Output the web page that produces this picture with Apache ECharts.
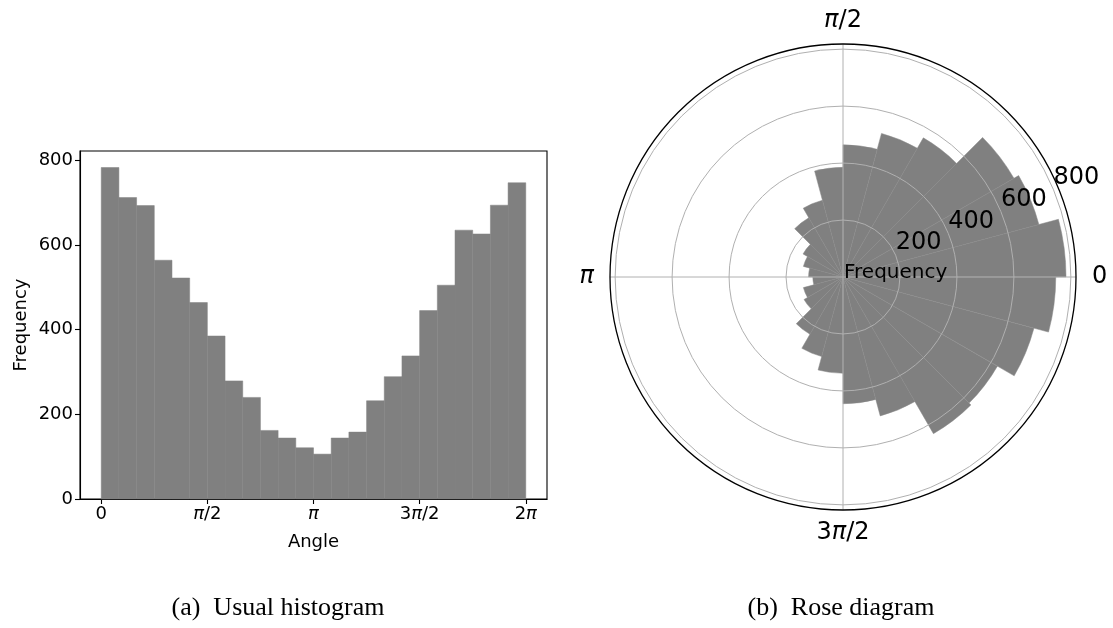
<!DOCTYPE html>
<html>
<head>
<meta charset="utf-8">
<title>Histogram and rose diagram of angles</title>
<script src="https://cdn.jsdelivr.net/npm/echarts@6/dist/echarts.min.js"></script>
<style>
  html, body { margin: 0; padding: 0; background: #ffffff; }
  #chart { width: 1113px; height: 628px; }
</style>
</head>
<body>
<div id="chart"></div>
<script>
// Counts per angular bin (24 equal bins over [0, 2π))
const counts = [783, 712, 693, 564, 522, 464, 385, 279, 240, 162, 144, 121,
                106, 144, 158, 232, 289, 338, 445, 505, 635, 626, 694, 747];
const binCount = counts.length;

// Histogram x ticks (radians) and their labels
const angleTickValues = [0, Math.PI / 2, Math.PI, 3 * Math.PI / 2, 2 * Math.PI];
const angleTickLabels = ['0', 'π/2', 'π', '3π/2', '2π'];

// Frequency ticks shared by both panels
const freqTicks = [0, 200, 400, 600, 800];
const ringTicks = [200, 400, 600, 800];

// Rose angular ticks (degrees) and labels
const roseAngleTicks = [0, 90, 180, 270];
const roseAngleLabels = ['0', 'π/2', 'π', '3π/2'];

// Panel captions
const captions = ['(a)  Usual histogram', '(b)  Rose diagram'];

const FONT = 'DejaVu Sans';
const GRAY = '#808080';
const GRID_GRAY = '#b0b0b0';

const binWidth = 2 * Math.PI / binCount;
const histData = counts.map((c, i) => [i * binWidth, (i + 1) * binWidth, c]);
const binNames = counts.map((c, i) => 'bin' + i);

function piRich(label) {
  return label.replace('π', '{p|π}');
}
function labelFor(values, labels) {
  return function (v) {
    for (let i = 0; i < values.length; i++) {
      if (Math.abs(values[i] - v) < 1e-6) return piRich(labels[i]);
    }
    return '';
  };
}

const rMax = 818;

const option = {
  animation: false,
  backgroundColor: '#ffffff',
  textStyle: { fontFamily: FONT, color: '#000' },
  grid: {
    left: 80, top: 151, width: 467, height: 348,
    show: true, borderColor: '#000', borderWidth: 1.1,
    backgroundColor: 'transparent'
  },
  xAxis: {
    type: 'value',
    min: -0.1 * Math.PI,
    max: 2.1 * Math.PI,
    axisLine: { show: true, onZero: false, lineStyle: { color: '#000', width: 1.1 } },
    axisTick: { show: true, length: 5, customValues: angleTickValues,
                lineStyle: { color: '#000', width: 1.1 } },
    axisLabel: {
      customValues: angleTickValues,
      formatter: labelFor(angleTickValues, angleTickLabels),
      fontSize: 18, color: '#000', margin: 6, fontFamily: FONT,
      rich: { p: { fontStyle: 'italic', fontSize: 18, fontFamily: FONT, color: '#000' } }
    },
    splitLine: { show: false },
    name: 'Angle', nameLocation: 'middle', nameGap: 34,
    nameTextStyle: { fontSize: 18, color: '#000', fontFamily: FONT }
  },
  yAxis: {
    type: 'value',
    min: 0,
    max: 822,
    axisLine: { show: true, onZero: false, lineStyle: { color: '#000', width: 1.1 } },
    axisTick: { show: true, length: 5, customValues: freqTicks,
                lineStyle: { color: '#000', width: 1.1 } },
    axisLabel: { customValues: freqTicks, fontSize: 18, color: '#000', margin: 7, fontFamily: FONT },
    splitLine: { show: false },
    name: 'Frequency', nameLocation: 'middle', nameGap: 50, nameRotate: 90,
    nameTextStyle: { fontSize: 18, color: '#000', fontFamily: FONT }
  },
  polar: [
    { center: [843, 277], radius: 233 },
    { center: [843, 277], radius: 233 },
    { center: [843, 277], radius: 233 }
  ],
  angleAxis: [
    {
      polarIndex: 0, type: 'value', min: 0, max: 360, interval: 90,
      startAngle: 0, clockwise: false, z: 10,
      axisLine: { show: true, lineStyle: { color: '#000', width: 1.3 } },
      axisTick: { show: false, customValues: roseAngleTicks },
      axisLabel: {
        customValues: roseAngleTicks,
        formatter: labelFor(roseAngleTicks, roseAngleLabels),
        fontSize: 24, lineHeight: 14, color: '#000', margin: 16, fontFamily: FONT,
        rich: { p: { fontStyle: 'italic', fontSize: 24, lineHeight: 14, fontFamily: FONT, color: '#000' } }
      },
      splitLine: { show: true, lineStyle: { color: GRID_GRAY, width: 1 } }
    },
    {
      polarIndex: 1, type: 'category', data: binNames, boundaryGap: true,
      startAngle: 0, clockwise: false,
      axisLine: { show: false }, axisTick: { show: false },
      axisLabel: { show: false }, splitLine: { show: false }
    },
    {
      polarIndex: 2, type: 'value', min: 0, max: 360,
      startAngle: 22.5, clockwise: false,
      axisLine: { show: false }, axisTick: { show: false },
      axisLabel: { show: false }, splitLine: { show: false }
    }
  ],
  radiusAxis: [
    {
      polarIndex: 0, type: 'value', min: 0, max: rMax, z: 10,
      axisLine: { show: false },
      axisTick: { show: false, customValues: ringTicks },
      axisLabel: { show: false },
      splitLine: { show: true, lineStyle: { color: GRID_GRAY, width: 1 } }
    },
    {
      polarIndex: 1, type: 'value', min: 0, max: rMax, z: 12,
      axisLine: { show: false }, axisTick: { show: false },
      axisLabel: { show: false }, splitLine: { show: false },
      name: 'Frequency', nameLocation: 'start', nameGap: -1,
      nameTextStyle: { fontSize: 20, color: '#000', fontFamily: FONT,
                       align: 'left', verticalAlign: 'bottom', lineHeight: 8 }
    },
    {
      polarIndex: 2, type: 'value', min: 0, max: rMax, z: 11,
      axisLine: { show: false },
      axisTick: { show: false, customValues: ringTicks },
      axisLabel: { customValues: ringTicks, fontSize: 24, color: '#000', margin: 0,
                   align: 'left', verticalAlign: 'bottom', fontFamily: FONT },
      splitLine: { show: false }
    }
  ],
  series: [
    {
      type: 'custom',
      xAxisIndex: 0, yAxisIndex: 0,
      data: histData,
      encode: { x: [0, 1], y: 2 },
      renderItem: function (params, api) {
        const topLeft = api.coord([api.value(0), api.value(2)]);
        const bottomRight = api.coord([api.value(1), 0]);
        return {
          type: 'rect',
          shape: {
            x: topLeft[0], y: topLeft[1],
            width: bottomRight[0] - topLeft[0],
            height: bottomRight[1] - topLeft[1]
          },
          style: { fill: GRAY, stroke: GRAY, lineWidth: 0.5 }
        };
      }
    },
    {
      type: 'bar',
      coordinateSystem: 'polar',
      polarIndex: 1,
      data: counts,
      barCategoryGap: '0%',
      itemStyle: { color: GRAY, borderColor: '#888888', borderWidth: 0.5 }
    }
  ],
  graphic: [
    {
      type: 'text', x: 278, y: 608,
      style: { text: captions[0], font: '26px "Liberation Serif"', fill: '#000',
               align: 'center', verticalAlign: 'middle' }
    },
    {
      type: 'text', x: 841, y: 608,
      style: { text: captions[1], font: '26px "Liberation Serif"', fill: '#000',
               align: 'center', verticalAlign: 'middle' }
    }
  ]
};

const chart = echarts.init(document.getElementById('chart'), null, { renderer: 'canvas' });
chart.setOption(option);
</script>
</body>
</html>
